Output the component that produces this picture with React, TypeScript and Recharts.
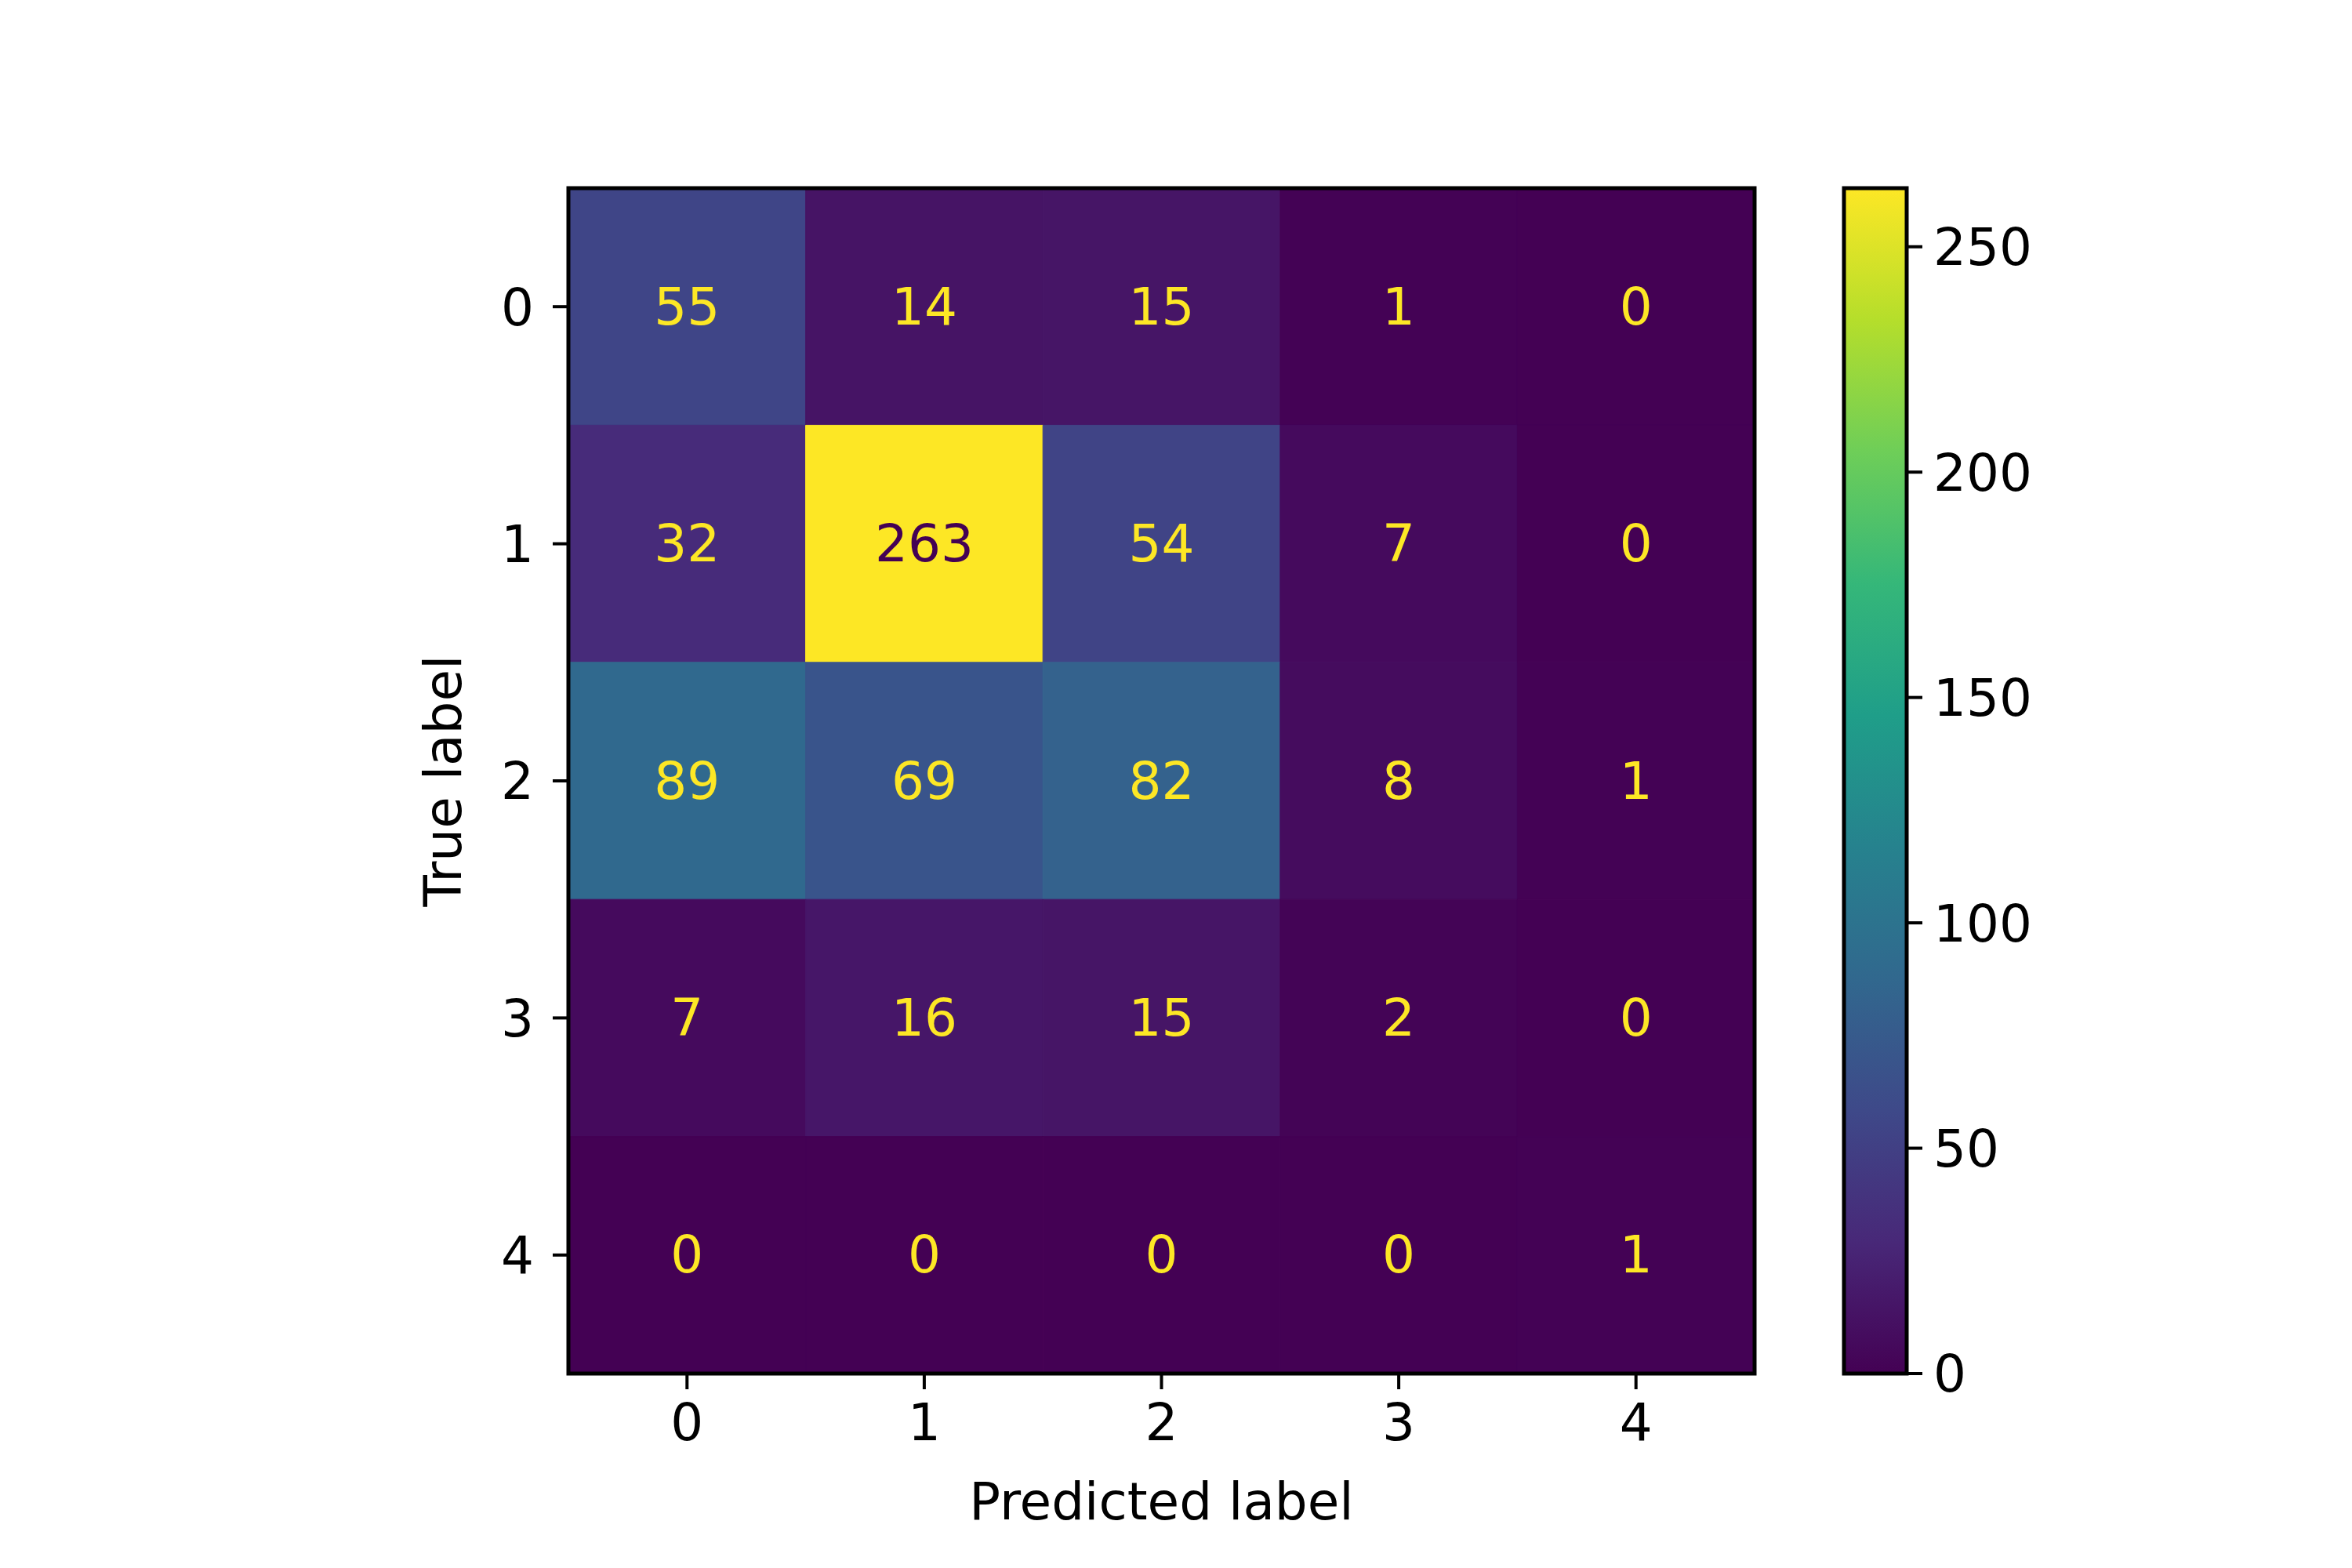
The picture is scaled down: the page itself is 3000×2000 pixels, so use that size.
import React from "react";
import { ComposedChart, Scatter, XAxis, YAxis, ReferenceArea } from "recharts";

const classes = [0, 1, 2, 3, 4];
const matrix = [
  [55, 14, 15, 1, 0],
  [32, 263, 54, 7, 0],
  [89, 69, 82, 8, 1],
  [7, 16, 15, 2, 0],
  [0, 0, 0, 0, 1],
];
const colorbarTicks = [0, 50, 100, 150, 200, 250];
const xLabel = "Predicted label";
const yLabel = "True label";

const VIR = ["#440154", "#482878", "#3e4989", "#31688e", "#26828e", "#1f9e89", "#35b779", "#6ece58", "#b5de2b", "#fde725"];
function hex(h: string) { return [1, 3, 5].map((i) => parseInt(h.slice(i, i + 2), 16)); }
function viridis(t: number) {
  t = Math.max(0, Math.min(1, t));
  const p = t * (VIR.length - 1);
  const i = Math.min(Math.floor(p), VIR.length - 2);
  const f = p - i;
  const a = hex(VIR[i]), b = hex(VIR[i + 1]);
  const c = a.map((v, k) => Math.round(v + (b[k] - v) * f));
  return `rgb(${c[0]},${c[1]},${c[2]})`;
}
const vmax = Math.max(...matrix.flat());
const points = matrix.flatMap((row, r) => row.map((v, c) => ({ x: c, y: r, v })));
const barAnchor = [{ x: 0.5, y: 0 }];
const FONT = "DejaVu Sans, sans-serif";
const FS = 66;

const tickStyle = { fontSize: FS, fill: "#000", fontFamily: FONT };

const Label = (props: any) => {
  const { cx, cy, payload } = props;
  const color = payload.v < vmax / 2 ? viridis(1) : viridis(0);
  return (
    <text x={cx} y={cy} textAnchor="middle" dominantBaseline="central" fontSize={FS} fontFamily={FONT} fill={color}>
      {payload.v}
    </text>
  );
};
const Empty = () => <g />;

export default function App() {
  return (
    <div style={{ position: "absolute", left: 0, top: 0, width: 3000, height: 2000, background: "#fff" }}>
      <div style={{ position: "absolute", left: 0, top: 0 }}>
        <ComposedChart width={3000} height={2000} margin={{ left: 625, right: 762, top: 240, bottom: 98 }}>
          <XAxis type="number" dataKey="x" domain={[-0.5, 4.5]} ticks={classes} height={150} axisLine={false}
            tickSize={20} tickLine={{ stroke: "#000", strokeWidth: 4 }} tick={tickStyle} tickMargin={18} interval={0}
            label={{ value: xLabel, position: "insideBottom", offset: -36, fontSize: FS, fill: "#000", fontFamily: FONT }} />
          <YAxis type="number" dataKey="y" domain={[-0.5, 4.5]} reversed ticks={classes} width={100} axisLine={false}
            tickSize={20} tickLine={{ stroke: "#000", strokeWidth: 4 }} tick={tickStyle} tickMargin={24} interval={0}
            label={{ value: yLabel, angle: -90, position: "insideLeft", offset: -60, fontSize: FS, fill: "#000", fontFamily: FONT, style: { textAnchor: "middle" } }} />
          {points.map((p) => (
            <ReferenceArea key={`${p.x}-${p.y}`} x1={p.x - 0.5} x2={p.x + 0.5} y1={p.y - 0.5} y2={p.y + 0.5}
              fill={viridis(p.v / vmax)} fillOpacity={1} stroke={viridis(p.v / vmax)} strokeWidth={1} />
          ))}
          <ReferenceArea x1={-0.5} x2={4.5} y1={-0.5} y2={4.5} fill="none" stroke="#000" strokeWidth={5} />
          <Scatter data={points} shape={<Label />} isAnimationActive={false} />
        </ComposedChart>
      </div>
      <div style={{ position: "absolute", left: 0, top: 0 }}>
        <ComposedChart width={3000} height={2000} margin={{ left: 2352, right: 418, top: 240, bottom: 248 }}>
          <defs>
            <linearGradient id="vgrad" x1="0" y1="1" x2="0" y2="0">
              {VIR.map((c, i) => (
                <stop key={i} offset={`${(i / (VIR.length - 1)) * 100}%`} stopColor={c} />
              ))}
            </linearGradient>
          </defs>
          <XAxis type="number" dataKey="x" domain={[0, 1]} hide />
          <YAxis type="number" dataKey="y" orientation="right" domain={[0, vmax]} ticks={colorbarTicks} width={150} axisLine={false}
            tickSize={20} tickLine={{ stroke: "#000", strokeWidth: 4 }} tick={{ ...tickStyle, textAnchor: "start" }} tickMargin={14} interval={0} />
          <ReferenceArea x1={0} x2={1} y1={0} y2={vmax} fill="url(#vgrad)" fillOpacity={1} stroke="#000" strokeWidth={5} />
          <Scatter data={barAnchor} shape={<Empty />} isAnimationActive={false} />
        </ComposedChart>
      </div>
    </div>
  );
}
